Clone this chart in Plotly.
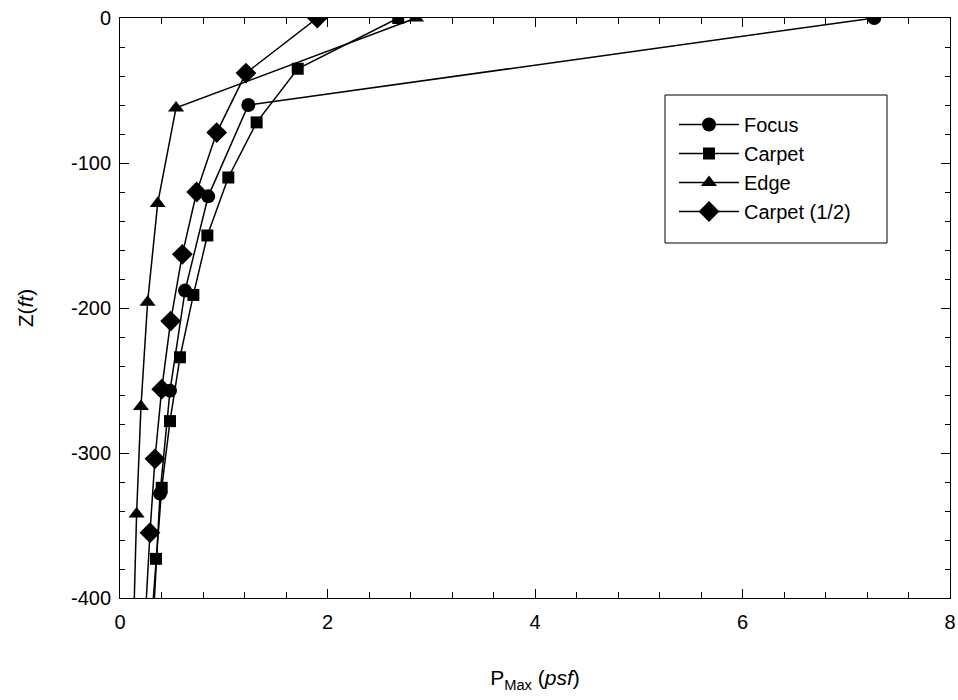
import plotly.graph_objects as go

# Peak pressure profiles versus depth
focus_p = [7.27, 1.237, 0.85, 0.627, 0.482, 0.386, 0.321]
focus_z = [0, -60, -123, -188, -257, -328, -415]

carpet_p = [2.682, 1.713, 1.317, 1.044, 0.842, 0.707, 0.578, 0.482, 0.402, 0.347, 0.297]
carpet_z = [0, -35, -72, -110, -150, -191, -234, -278, -324, -373, -423]

edge_p = [2.853, 0.54, 0.363, 0.266, 0.202, 0.16, 0.131]
edge_z = [0, -62, -128, -196, -268, -342, -418]

half_p = [1.902, 1.214, 0.932, 0.739, 0.601, 0.488, 0.402, 0.337, 0.289, 0.245]
half_z = [0, -38, -79, -120, -163, -209, -256, -304, -355, -412]

x_tickvals = [0, 2, 4, 6, 8]
x_ticktext = ["0", "2", "4", "6", "8"]
y_tickvals = [0, -100, -200, -300, -400]
y_ticktext = ["0", "-100", "-200", "-300", "-400"]

series = [
    ("Focus", focus_p, focus_z, "circle", 14),
    ("Carpet", carpet_p, carpet_z, "square", 12),
    ("Edge", edge_p, edge_z, "triangle-up", 14),
    ("Carpet (1/2)", half_p, half_z, "diamond", 16),
]

fig = go.Figure()
for name, p, z, sym, size in series:
    fig.add_trace(go.Scatter(
        x=p, y=z, name=name, mode="lines+markers",
        line=dict(color="black", width=1.5),
        marker=dict(symbol=sym, size=size, color="black", line=dict(width=0)),
    ))

family = "Arial, Liberation Sans, sans-serif"
tick_font = dict(family=family, size=20, color="black")
title_font = dict(family=family, size=21, color="black")
legend_font = dict(family=family, size=20, color="black")

axis_common = dict(
    showline=True, linecolor="black", linewidth=1, mirror="ticks",
    ticks="inside", tickcolor="black", tickwidth=1,
    showgrid=False, zeroline=False, tickfont=tick_font, automargin=False,
)

fig.update_xaxes(
    range=[0, 8], tickmode="array", tickvals=x_tickvals, ticktext=x_ticktext,
    ticklen=9, ticklabelstandoff=6,
    minor=dict(dtick=0.4, tick0=0, ticks="inside", ticklen=6, tickcolor="black", showgrid=False),
    title=dict(text="P<sub>Max</sub> (<i>psf</i>)", font=title_font, standoff=38),
    **axis_common,
)
fig.update_yaxes(
    range=[-400, 0], tickmode="array", tickvals=y_tickvals, ticktext=y_ticktext,
    ticklen=9, ticklabelstandoff=4,
    minor=dict(dtick=20, tick0=0, ticks="inside", ticklen=5, tickcolor="black", showgrid=False),
    title=dict(text="Z(<i>ft</i>)", font=title_font, standoff=31),
    **axis_common,
)

fig.update_layout(
    width=958, height=700,
    margin=dict(l=120, r=8, t=18, b=102),
    plot_bgcolor="white", paper_bgcolor="white",
    font=tick_font,
    showlegend=True,
    legend=dict(
        x=(674 - 120) / 830, y=0.85, xanchor="left", yanchor="top",
        bgcolor="rgba(0,0,0,0)", borderwidth=0,
        font=legend_font, itemwidth=60, tracegroupgap=0,
    ),
    shapes=[dict(
        type="rect", xref="paper", yref="paper",
        x0=(665 - 120) / 830, x1=(887 - 120) / 830,
        y0=(598 - 243) / 580, y1=(598 - 95) / 580,
        line=dict(color="black", width=1), fillcolor="white", layer="above",
    )],
)

fig.write_html("out.html")
